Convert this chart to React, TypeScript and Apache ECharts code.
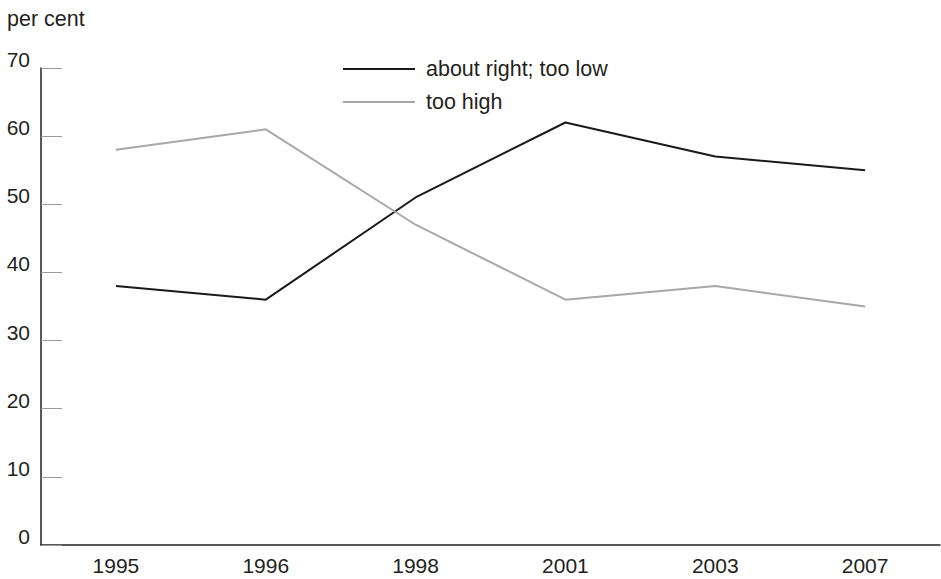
import React, { useEffect, useRef } from "react";
import * as echarts from "echarts";

const categories = ["1995", "1996", "1998", "2001", "2003", "2007"];
const aboutRight = [38, 36, 51, 62, 57, 55];
const tooHigh = [58, 61, 47, 36, 38, 35];
const seriesNames = ["about right; too low", "too high"];
const yTicks = { min: 0, max: 70, interval: 10 };

const FONT = "'Liberation Sans', Arial, Helvetica, sans-serif";
const TEXT = "#231f20";

export default function App() {
  const ref = useRef<HTMLDivElement>(null);
  useEffect(() => {
    if (!ref.current) return;
    const chart = echarts.init(ref.current, null, { renderer: "svg" });
    chart.setOption({
      animation: false,
      backgroundColor: "#ffffff",
      textStyle: { fontFamily: FONT },
      title: {
        text: "per cent",
        left: 2,
        top: 3,
        textStyle: { fontFamily: FONT, fontSize: 21.5, fontWeight: "normal", color: TEXT },
      },
      legend: {
        orient: "vertical",
        left: 338,
        top: 53,
        itemWidth: 72,
        itemHeight: 2,
        itemGap: 11,
        icon: "rect",
        textStyle: { fontFamily: FONT, fontSize: 21.5, color: TEXT, padding: [0, 0, 0, 6] },
        data: seriesNames,
      },
      grid: { left: 41, right: 1, top: 68, bottom: 34, containLabel: false },
      xAxis: {
        type: "category",
        data: categories,
        boundaryGap: true,
        axisLine: { lineStyle: { color: "#231f20", width: 1.5 } },
        axisTick: { inside: true, length: 11, lineStyle: { color: "#9a9a9a", width: 1 } },
        axisLabel: { fontFamily: FONT, fontSize: 21, color: TEXT, margin: 10 },
        splitLine: { show: false },
      },
      yAxis: {
        type: "value",
        min: yTicks.min,
        max: yTicks.max,
        interval: yTicks.interval,
        axisLine: { show: true, lineStyle: { color: "#231f20", width: 1.5 } },
        axisTick: { show: true, inside: true, length: 21, lineStyle: { color: "#9a9a9a", width: 1 } },
        axisLabel: {
          fontFamily: FONT,
          fontSize: 21,
          color: TEXT,
          margin: 11,
          verticalAlign: "bottom",
          lineHeight: 17,
        },
        splitLine: { show: false },
      },
      series: [
        {
          name: seriesNames[0],
          type: "line",
          data: aboutRight,
          symbol: "none",
          lineStyle: { color: "#1a1a1a", width: 2 },
          itemStyle: { color: "#1a1a1a" },
        },
        {
          name: seriesNames[1],
          type: "line",
          data: tooHigh,
          symbol: "none",
          lineStyle: { color: "#a8a8a8", width: 2 },
          itemStyle: { color: "#a8a8a8" },
        },
      ],
    });
    return () => chart.dispose();
  }, []);
  return <div ref={ref} style={{ width: 941, height: 579, position: "absolute", left: 0, top: 0 }} />;
}
